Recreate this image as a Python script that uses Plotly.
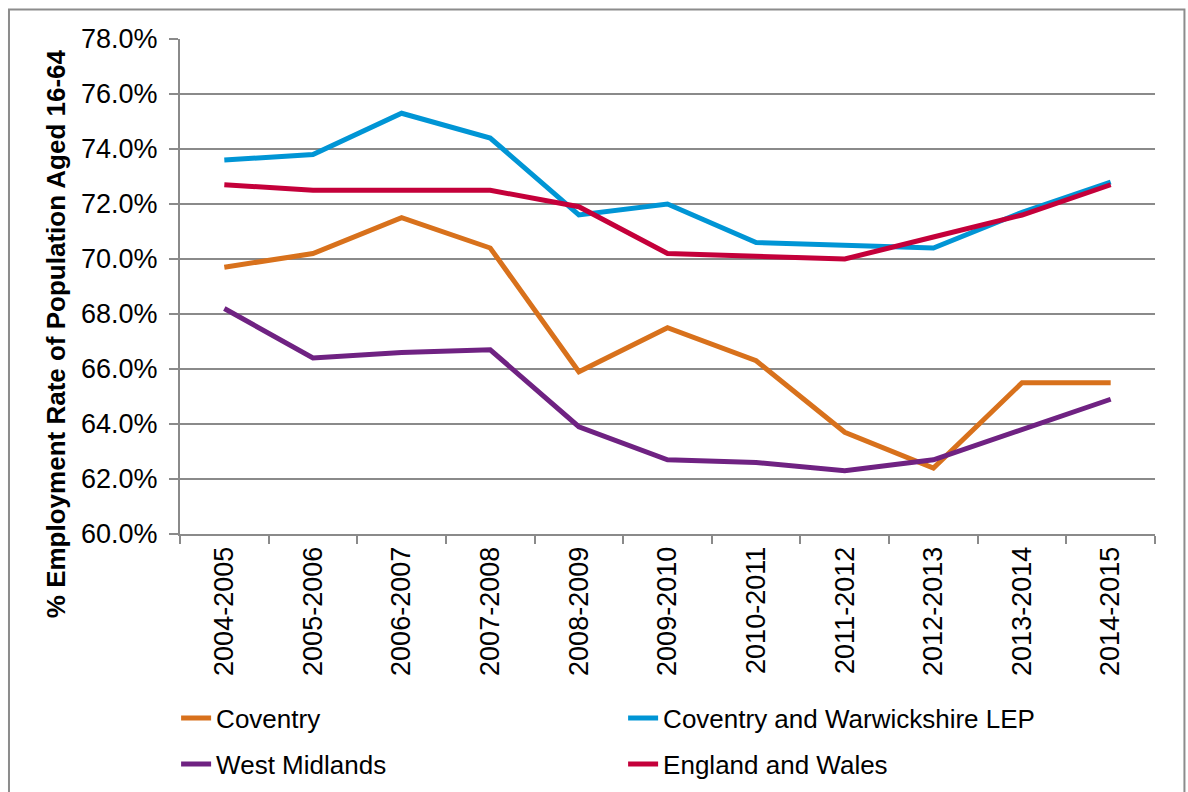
import plotly.graph_objects as go

# Financial-year periods on the category axis
periods = ["2004-2005", "2005-2006", "2006-2007", "2007-2008", "2008-2009",
           "2009-2010", "2010-2011", "2011-2012", "2012-2013", "2013-2014",
           "2014-2015"]

# Employment rate of population aged 16-64 (%)
coventry = [69.7, 70.2, 71.5, 70.4, 65.9, 67.5, 66.3, 63.7, 62.4, 65.5, 65.5]
cw_lep = [73.6, 73.8, 75.3, 74.4, 71.6, 72.0, 70.6, 70.5, 70.4, 71.7, 72.8]
west_midlands = [68.2, 66.4, 66.6, 66.7, 63.9, 62.7, 62.6, 62.3, 62.7, 63.8, 64.9]
england_wales = [72.7, 72.5, 72.5, 72.5, 71.9, 70.2, 70.1, 70.0, 70.8, 71.6, 72.7]

y_ticks = [60, 62, 64, 66, 68, 70, 72, 74, 76, 78]

FONT = "Arial, Liberation Sans, sans-serif"
GRID = "#8A8A8A"

series = [
    ("Coventry", coventry, "#D8711C", "legend"),
    ("Coventry and Warwickshire LEP", cw_lep, "#0095D5", "legend"),
    ("West Midlands", west_midlands, "#6F2282", "legend2"),
    ("England and Wales", england_wales, "#C4003A", "legend2"),
]

fig = go.Figure()
for name, vals, color, leg in series:
    fig.add_trace(go.Scatter(
        x=periods, y=vals, name=name, mode="lines",
        line=dict(color=color, width=5),
        legend=leg,
    ))

legend_style = dict(
    orientation="h", xanchor="left", yanchor="middle",
    font=dict(family=FONT, size=26, color="black"),
    bgcolor="rgba(0,0,0,0)", borderwidth=0,
    entrywidth=402, entrywidthmode="pixels",
    itemclick=False, itemdoubleclick=False,
)

fig.update_layout(
    width=1188, height=792,
    margin=dict(l=180, r=33, t=39, b=258, autoexpand=False),
    paper_bgcolor="white", plot_bgcolor="white",
    font=dict(family=FONT, size=27, color="black"),
    showlegend=True,
    legend=dict(x=-0.004, y=-0.372, **legend_style),
    legend2=dict(x=-0.004, y=-0.465, **legend_style),
    xaxis=dict(
        type="category", range=[-0.5, 10.5],
        tickson="boundaries", ticks="outside", ticklen=8, tickwidth=2,
        tickcolor=GRID, showline=True, linecolor=GRID, linewidth=2,
        showgrid=False, tickangle=-90,
        tickfont=dict(family=FONT, size=27, color="black"),
    ),
    yaxis=dict(
        range=[60, 78], tickvals=y_ticks,
        ticktext=[f"{v:.1f}%" for v in y_ticks],
        ticks="outside", ticklen=9, tickwidth=2, tickcolor=GRID,
        ticklabelstandoff=6,
        showline=True, linecolor=GRID, linewidth=2,
        showgrid=True, gridcolor=GRID, gridwidth=2,
        zeroline=False,
        tickfont=dict(family=FONT, size=27, color="black"),
    ),
    annotations=[dict(
        text="<b>% Employment Rate of Population Aged 16-64</b>",
        xref="paper", yref="paper", x=-0.127, y=0.404,
        xanchor="center", yanchor="middle", textangle=-90,
        showarrow=False, font=dict(family=FONT, size=26, color="black"),
    )],
    shapes=[dict(
        type="rect", xref="paper", yref="paper",
        x0=-0.1754, x1=1.0302, y0=-0.56, y1=1.0596,
        line=dict(color="#8C8C8C", width=2), fillcolor="rgba(0,0,0,0)",
        layer="below",
    )],
)

fig.write_html("out.html")
